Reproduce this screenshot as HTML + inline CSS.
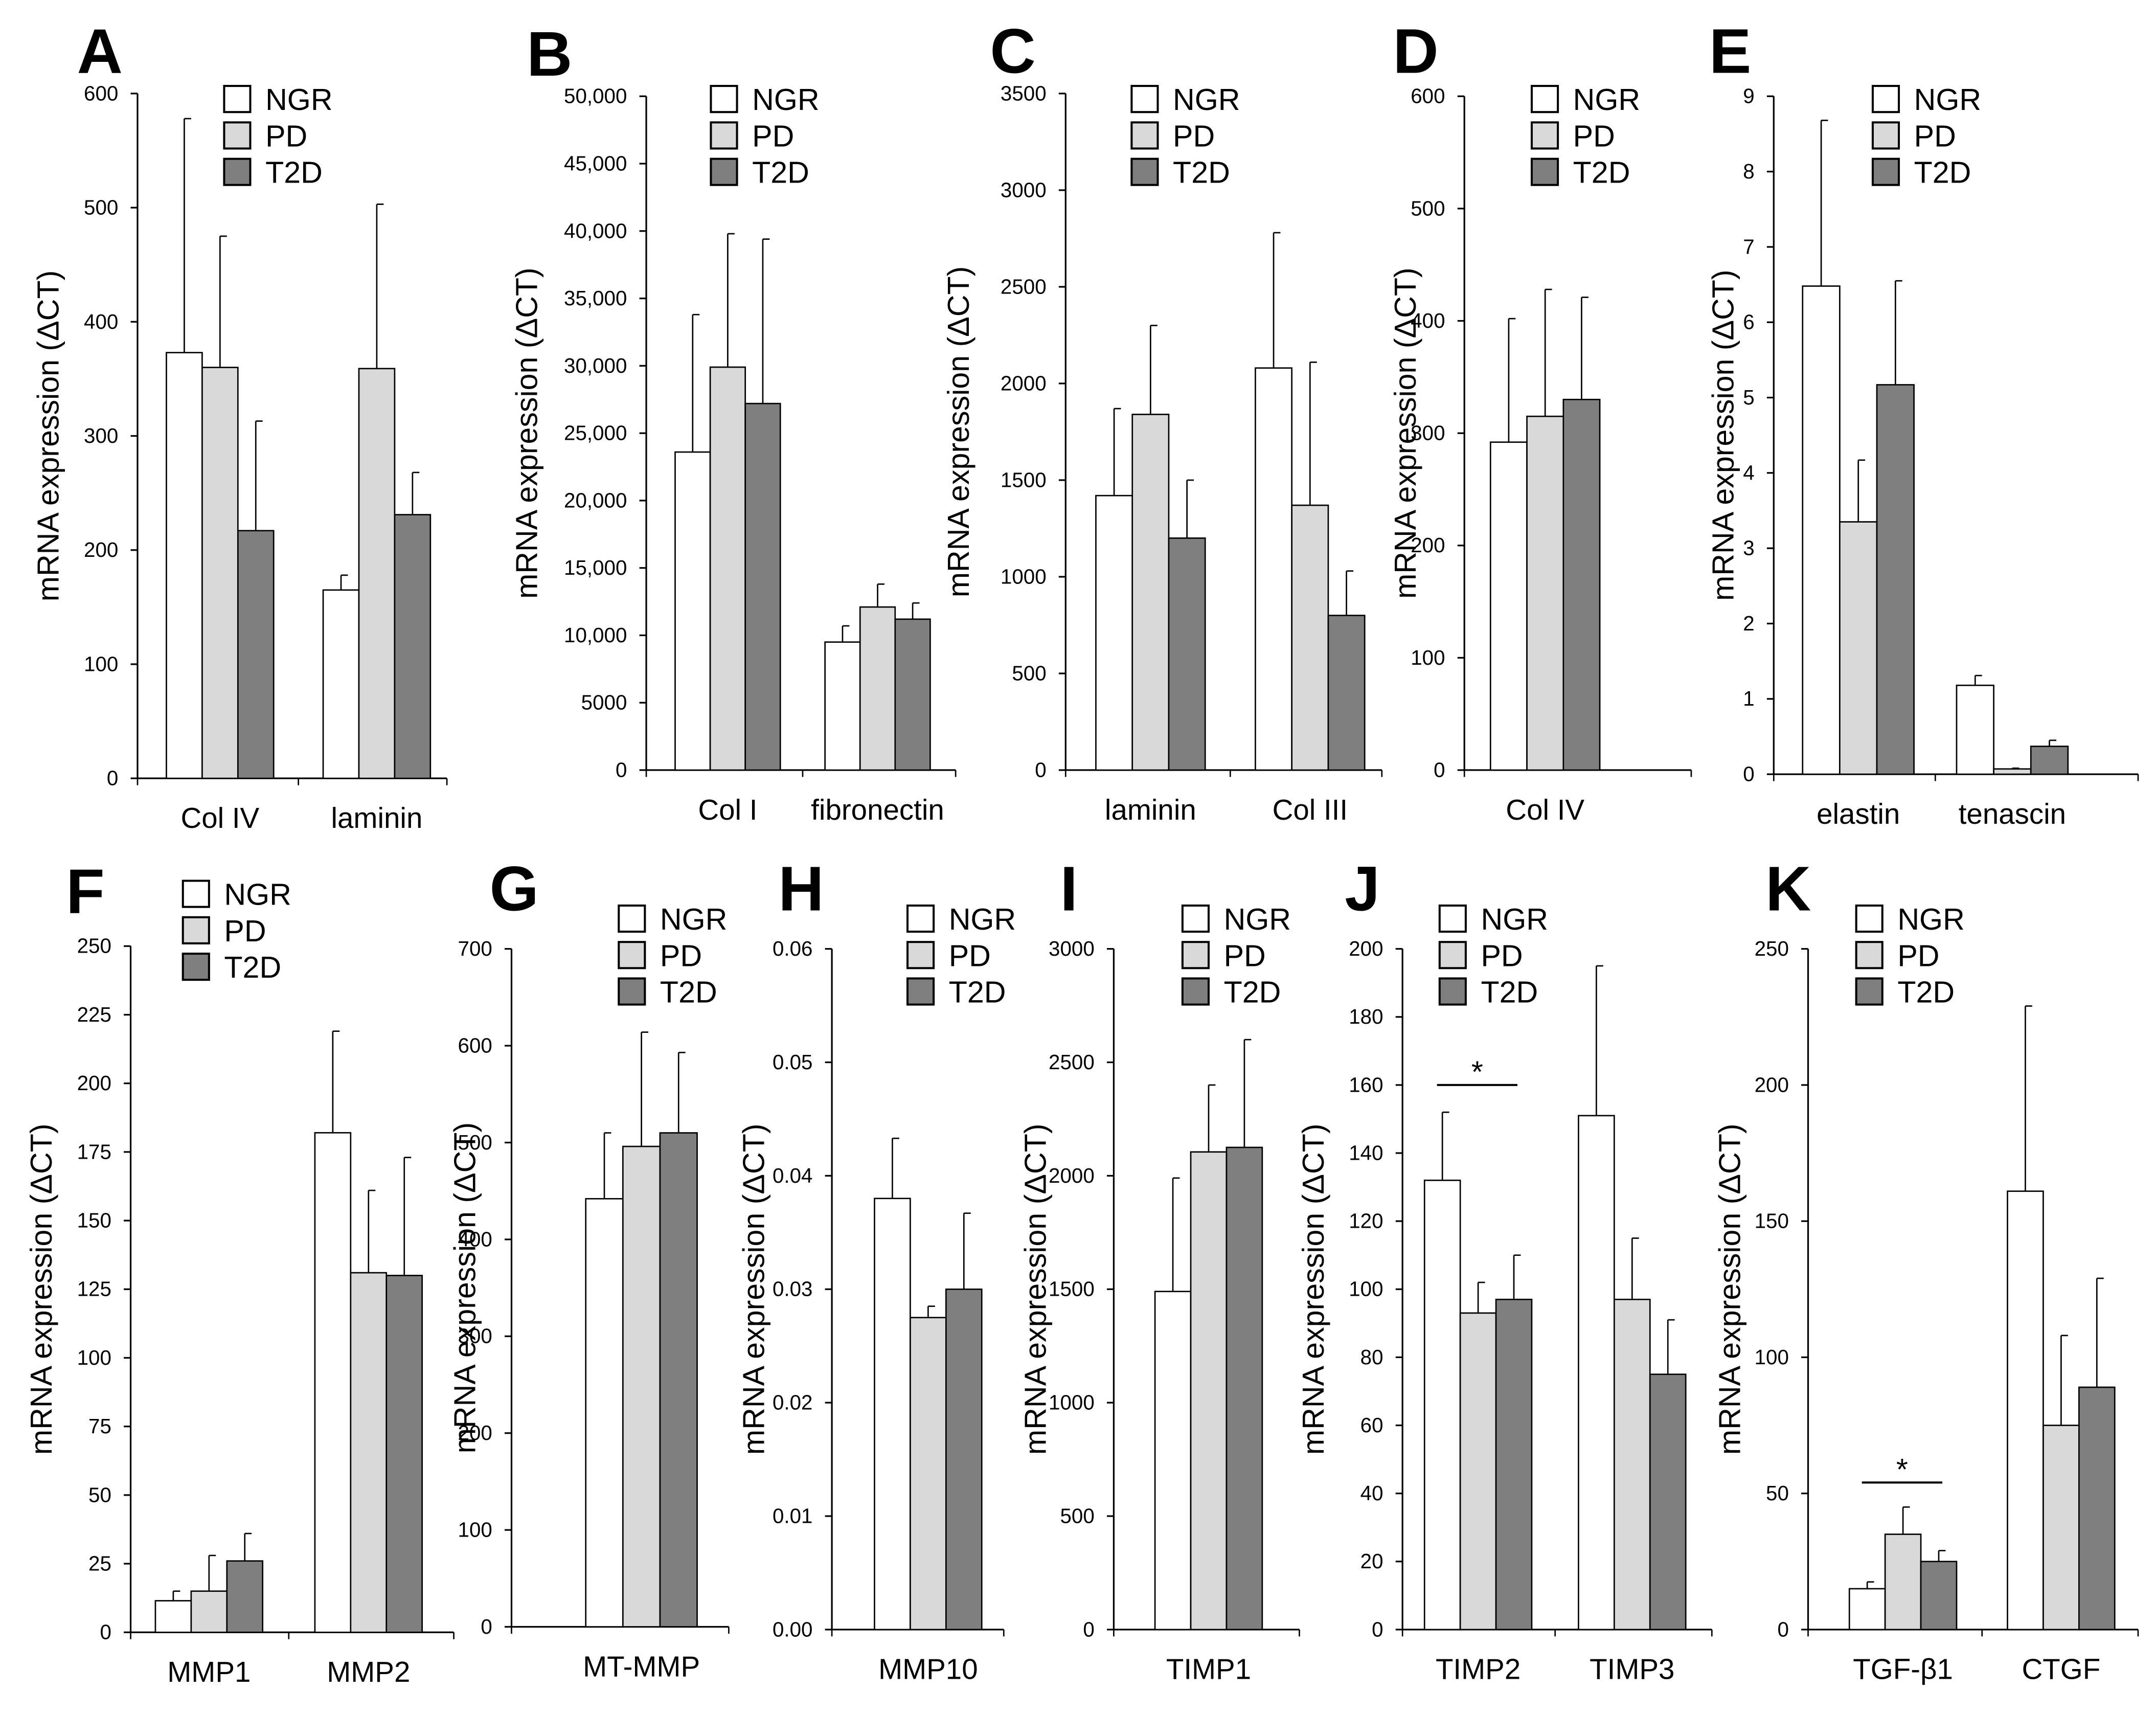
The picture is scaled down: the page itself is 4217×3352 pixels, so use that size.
<!DOCTYPE html>
<html><head><meta charset="utf-8"><style>
html,body{margin:0;padding:0;background:#fff}
svg{display:block}
text{font-family:"Liberation Sans",Arial,sans-serif;fill:#000}
</style></head><body>
<svg id="fig" xmlns="http://www.w3.org/2000/svg" width="4217" height="3352" viewBox="0 0 1568 1246.4"></svg>
<script>
// ---- Data ----
const aCategories=["Col IV","laminin"];
const aNGR=[373,165], aPD=[360,359], aT2D=[217,231];
const aErrNGR=[205,13], aErrPD=[115,144], aErrT2D=[96,37];
const aTicks=[0,100,200,300,400,500,600];

const bCategories=["Col I","fibronectin"];
const bNGR=[23600,9500], bPD=[29900,12100], bT2D=[27200,11200];
const bErrNGR=[10200,1200], bErrPD=[9900,1700], bErrT2D=[12200,1200];
const bTicks=[0,5000,10000,15000,20000,25000,30000,35000,40000,45000,50000];
const bTickLabels=["0","5000","10,000","15,000","20,000","25,000","30,000","35,000","40,000","45,000","50,000"];

const cCategories=["laminin","Col III"];
const cNGR=[1420,2080], cPD=[1840,1370], cT2D=[1200,800];
const cErrNGR=[450,700], cErrPD=[460,740], cErrT2D=[300,230];
const cTicks=[0,500,1000,1500,2000,2500,3000,3500];

const dCategories=["Col IV"];
const dNGR=[292], dPD=[315], dT2D=[330];
const dErrNGR=[110], dErrPD=[113], dErrT2D=[91];
const dTicks=[0,100,200,300,400,500,600];

const eCategories=["elastin","tenascin"];
const eNGR=[6.48,1.18], ePD=[3.35,0.07], eT2D=[5.17,0.37];
const eErrNGR=[2.2,0.13], eErrPD=[0.82,0.01], eErrT2D=[1.38,0.08];
const eTicks=[0,1,2,3,4,5,6,7,8,9];

const fCategories=["MMP1","MMP2"];
const fNGR=[11.5,182], fPD=[15,131], fT2D=[26,130];
const fErrNGR=[3.5,37], fErrPD=[13,30], fErrT2D=[10,43];
const fTicks=[0,25,50,75,100,125,150,175,200,225,250];

const gCategories=["MT-MMP"];
const gNGR=[442], gPD=[496], gT2D=[510];
const gErrNGR=[68], gErrPD=[118], gErrT2D=[83];
const gTicks=[0,100,200,300,400,500,600,700];

const hCategories=["MMP10"];
const hNGR=[0.038], hPD=[0.0275], hT2D=[0.030];
const hErrNGR=[0.0053], hErrPD=[0.001], hErrT2D=[0.0067];
const hTicks=[0,0.01,0.02,0.03,0.04,0.05,0.06];
const hTickLabels=["0.00","0.01","0.02","0.03","0.04","0.05","0.06"];

const iCategories=["TIMP1"];
const iNGR=[1490], iPD=[2105], iT2D=[2125];
const iErrNGR=[500], iErrPD=[295], iErrT2D=[475];
const iTicks=[0,500,1000,1500,2000,2500,3000];

const jCategories=["TIMP2","TIMP3"];
const jNGR=[132,151], jPD=[93,97], jT2D=[97,75];
const jErrNGR=[20,44], jErrPD=[9,18], jErrT2D=[13,16];
const jTicks=[0,20,40,60,80,100,120,140,160,180,200];
const jSigLevel=[160];

const kCategories=["TGF-β1","CTGF"];
const kNGR=[15,161], kPD=[35,75], kT2D=[25,89];
const kErrNGR=[2.5,68], kErrPD=[10,33], kErrT2D=[4,40];
const kTicks=[0,50,100,150,200,250];
const kSigLevel=[54];

const seriesNames=["NGR","PD","T2D"];
const seriesColors=["#ffffff","#d9d9d9","#7f7f7f"];

// ---- Layout ----
const svg=document.getElementById('fig');
const NS="http://www.w3.org/2000/svg";
function mk(tag,attrs,parent){const e=document.createElementNS(NS,tag);for(const k in attrs)e.setAttribute(k,attrs[k]);(parent||svg).appendChild(e);return e;}

const panels=[
 {id:'a',L:'A',ax:100,top:68,bot:566,right:325,firstBar:121,groupGap:114,bw:26,lab:35,letterX:56,letterY:53,legX:163,legY:72,cats:aCategories,s:[aNGR,aPD,aT2D],e:[aErrNGR,aErrPD,aErrT2D],ticks:aTicks},
 {id:'b',L:'B',ax:470,top:70,bot:560,right:695,firstBar:491,groupGap:109,bw:25.5,lab:383,letterX:383,letterY:55,legX:517,legY:72,cats:bCategories,s:[bNGR,bPD,bT2D],e:[bErrNGR,bErrPD,bErrT2D],ticks:bTicks,tl:bTickLabels},
 {id:'c',L:'C',ax:775,top:68,bot:560,right:1005,firstBar:797,groupGap:116,bw:26.5,lab:697,letterX:720,letterY:53,legX:823,legY:72,cats:cCategories,s:[cNGR,cPD,cT2D],e:[cErrNGR,cErrPD,cErrT2D],ticks:cTicks},
 {id:'d',L:'D',ax:1065,top:70,bot:560,right:1230,firstBar:1084,groupGap:0,bw:26.5,lab:1022,letterX:1013,letterY:53,legX:1114,legY:72,cats:dCategories,s:[dNGR,dPD,dT2D],e:[dErrNGR,dErrPD,dErrT2D],ticks:dTicks},
 {id:'e',L:'E',ax:1290,top:70,bot:563,right:1555,firstBar:1311,groupGap:112,bw:27,lab:1253,letterX:1243,letterY:53,legX:1362,legY:72,cats:eCategories,s:[eNGR,ePD,eT2D],e:[eErrNGR,eErrPD,eErrT2D],ticks:eTicks},
 {id:'f',L:'F',ax:95,top:688,bot:1187,right:330,firstBar:113,groupGap:116,bw:26,lab:30,letterX:48,letterY:664,legX:133,legY:650,cats:fCategories,s:[fNGR,fPD,fT2D],e:[fErrNGR,fErrPD,fErrT2D],ticks:fTicks},
 {id:'g',L:'G',ax:372,top:690,bot:1183,right:530,firstBar:426,groupGap:0,bw:27,lab:338,letterX:356,letterY:662,legX:450,legY:668,cats:gCategories,s:[gNGR,gPD,gT2D],e:[gErrNGR,gErrPD,gErrT2D],ticks:gTicks},
 {id:'h',L:'H',ax:605,top:690,bot:1185,right:730,firstBar:636,groupGap:0,bw:26,lab:548,letterX:566,letterY:662,legX:660,legY:668,cats:hCategories,s:[hNGR,hPD,hT2D],e:[hErrNGR,hErrPD,hErrT2D],ticks:hTicks,tl:hTickLabels},
 {id:'i',L:'I',ax:810,top:690,bot:1185,right:945,firstBar:840,groupGap:0,bw:26,lab:753,letterX:771,letterY:662,legX:860,legY:668,cats:iCategories,s:[iNGR,iPD,iT2D],e:[iErrNGR,iErrPD,iErrT2D],ticks:iTicks},
 {id:'j',L:'J',ax:1020,top:690,bot:1185,right:1245,firstBar:1036,groupGap:112,bw:26,lab:955,letterX:978,letterY:662,legX:1047,legY:668,cats:jCategories,s:[jNGR,jPD,jT2D],e:[jErrNGR,jErrPD,jErrT2D],ticks:jTicks,sig:jSigLevel},
 {id:'k',L:'K',ax:1315,top:690,bot:1185,right:1555,firstBar:1345,groupGap:115,bw:26,lab:1258,letterX:1284,letterY:662,legX:1350,legY:668,cats:kCategories,s:[kNGR,kPD,kT2D],e:[kErrNGR,kErrPD,kErrT2D],ticks:kTicks,sig:kSigLevel}
];

panels.forEach(p=>{
  const g=mk('g',{});
  
  
  const maxT=p.ticks[p.ticks.length-1];
  const y=v=>p.bot-(v/maxT)*(p.bot-p.top);
  const lt=mk('text',{x:p.letterX,y:p.letterY,'font-size':46,'font-weight':'bold'},g);
  lt.textContent=p.L;
  
  
  const ya=mk('line',{x1:p.ax,y1:p.top,x2:p.ax,y2:p.bot,stroke:'#000','stroke-width':1.2},g);
  
  
  p.ticks.forEach((t,k)=>{
    mk('line',{x1:p.ax-5,y1:y(t),x2:p.ax,y2:y(t),stroke:'#000','stroke-width':1.2},g);
    const tx=mk('text',{x:p.ax-14,y:y(t)+5,'font-size':15,'text-anchor':'end'},g);
    tx.textContent=p.tl?p.tl[k]:String(t);
    
    
  });
  const xa=mk('line',{x1:p.ax,y1:p.bot,x2:p.right,y2:p.bot,stroke:'#000','stroke-width':1.2},g);
  
  
  const n=p.cats.length;
  const edges=[p.ax];
  for(let c=1;c<n;c++)edges.push((p.firstBar+3*p.bw+(c-1)*p.groupGap+p.firstBar+c*p.groupGap)/2);
  edges.push(p.right);
  edges.forEach(ex=>mk('line',{x1:ex,y1:p.bot,x2:ex,y2:p.bot+5,stroke:'#000'},g));
  const cy=(p.top+p.bot)/2;
  const yl=mk('text',{x:p.lab,y:cy,'font-size':22,'text-anchor':'middle',transform:`rotate(-90 ${p.lab} ${cy})`,'dominant-baseline':'central'},g);
  yl.textContent='mRNA expression (ΔCT)';
  
  
  p.cats.forEach((cat,c)=>{
    const gx=p.firstBar+c*p.groupGap;
    for(let s=0;s<3;s++){
      const v=p.s[s][c], er=p.e[s][c];
      const x=gx+s*p.bw, cx=x+p.bw/2;
      const el=mk('line',{x1:cx,y1:y(v),x2:cx,y2:y(v+er),stroke:'#000','stroke-width':1},g);
      
      
      mk('line',{x1:cx,y1:y(v+er),x2:cx+5,y2:y(v+er),stroke:'#000','stroke-width':1},g);
      const r=mk('rect',{x:x,y:y(v),width:p.bw,height:p.bot-y(v),fill:seriesColors[s],stroke:'#000','stroke-width':1},g);
      
      
    }
    const cl=mk('text',{x:gx+1.5*p.bw,y:p.bot+36,'font-size':21,'text-anchor':'middle'},g);
    cl.textContent=cat;
    
    
  });
  if(p.sig){
    const sy=y(p.sig[0]);
    const x1=p.firstBar+p.bw*0.35, x2=p.firstBar+p.bw*2.6;
    const sl=mk('line',{x1:x1,y1:sy,x2:x2,y2:sy,stroke:'#000','stroke-width':1.5},g);
    
    
    const st=mk('text',{x:(x1+x2)/2,y:sy-2,'font-size':22,'text-anchor':'middle'},g);
    st.textContent='*';
    
    
  }
  seriesNames.forEach((nm,s)=>{
    const ly=p.legY+s*26.5;
    const lb=mk('rect',{x:p.legX,y:ly-9.5,width:19,height:19,fill:seriesColors[s],stroke:'#000','stroke-width':1.5},g);
    
    
    const lt2=mk('text',{x:p.legX+30,y:ly+8,'font-size':22},g);
    lt2.textContent=nm;
    
    
  });
});
</script>
</body></html>
